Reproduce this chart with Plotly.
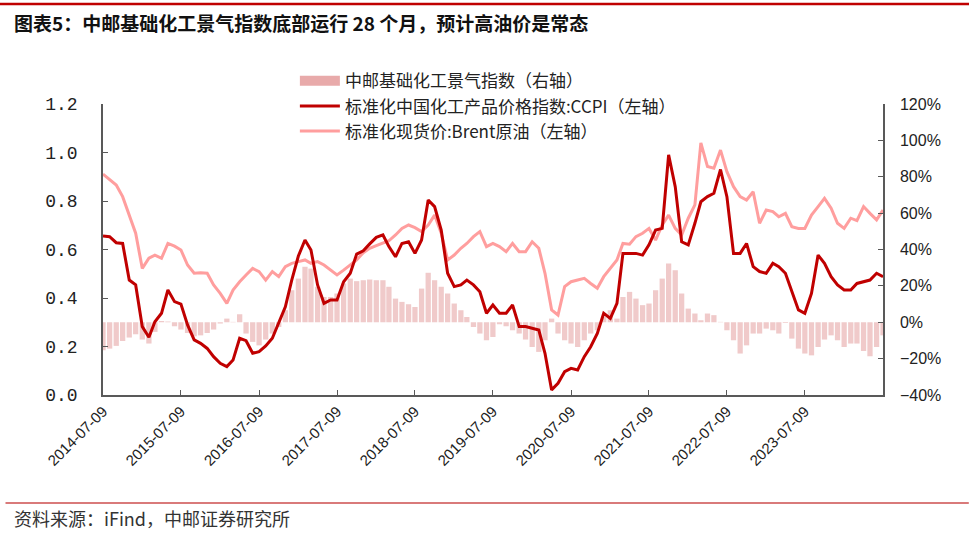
import pandas as pd
import plotly.graph_objects as go

start = pd.Timestamp("2014-07-09")
n_months = 121
dates = [start + pd.DateOffset(months=i) for i in range(n_months)]

ccpi = [0.656, 0.653, 0.628, 0.625, 0.474, 0.454, 0.282, 0.238, 0.302, 0.337,
        0.433, 0.385, 0.375, 0.289, 0.227, 0.213, 0.192, 0.158, 0.131, 0.117,
        0.144, 0.234, 0.224, 0.172, 0.179, 0.202, 0.234, 0.296, 0.364, 0.474,
        0.573, 0.639, 0.598, 0.454, 0.378, 0.392, 0.392, 0.467, 0.502, 0.581,
        0.595, 0.623, 0.650, 0.660, 0.612, 0.570, 0.625, 0.632, 0.584, 0.639,
        0.804, 0.777, 0.680, 0.502, 0.447, 0.454, 0.474, 0.454, 0.426, 0.337,
        0.371, 0.337, 0.337, 0.371, 0.282, 0.282, 0.275, 0.268, 0.172, 0.021,
        0.048, 0.096, 0.110, 0.103, 0.158, 0.199, 0.254, 0.337, 0.316, 0.378,
        0.584, 0.584, 0.584, 0.577, 0.619, 0.680, 0.687, 0.990, 0.859, 0.632,
        0.619, 0.708, 0.797, 0.818, 0.832, 0.930, 0.818, 0.584, 0.584, 0.625,
        0.529, 0.509, 0.502, 0.543, 0.529, 0.502, 0.426, 0.351, 0.337, 0.419,
        0.577, 0.543, 0.488, 0.454, 0.433, 0.433, 0.460, 0.467, 0.474, 0.502,
        0.488]

brent = [0.911, 0.889, 0.866, 0.818, 0.742, 0.667, 0.522, 0.564, 0.577, 0.564,
         0.625, 0.614, 0.598, 0.536, 0.502, 0.504, 0.502, 0.454, 0.419, 0.378,
         0.433, 0.467, 0.495, 0.522, 0.509, 0.474, 0.509, 0.488, 0.529, 0.543,
         0.550, 0.557, 0.543, 0.550, 0.536, 0.515, 0.495, 0.515, 0.536, 0.557,
         0.587, 0.605, 0.616, 0.625, 0.636, 0.660, 0.687, 0.701, 0.690, 0.674,
         0.701, 0.742, 0.667, 0.557, 0.577, 0.605, 0.625, 0.653, 0.674, 0.612,
         0.625, 0.612, 0.591, 0.625, 0.591, 0.591, 0.632, 0.605, 0.502, 0.351,
         0.330, 0.447, 0.467, 0.474, 0.481, 0.460, 0.440, 0.488, 0.522, 0.557,
         0.625, 0.622, 0.653, 0.667, 0.687, 0.639, 0.701, 0.742, 0.687, 0.660,
         0.729, 0.784, 1.040, 0.942, 0.935, 1.010, 0.921, 0.859, 0.818, 0.804,
         0.838, 0.708, 0.763, 0.756, 0.735, 0.749, 0.694, 0.687, 0.687, 0.742,
         0.777, 0.811, 0.770, 0.708, 0.687, 0.729, 0.719, 0.777, 0.749, 0.722,
         0.763]

index_pct = [-15.4, -14.5, -13.0, -10.3, -8.4, -6.6, -9.5, -11.7, -5.3, 0.7,
             0.4, -2.2, -4.0, -5.9, -7.7, -7.2, -5.9, -4.0, -0.7, 2.0,
             0.2, 4.4, -6.2, -10.8, -12.7, -9.5, -6.2, -2.6, 6.6, 17.6,
             24.0, 30.5, 29.5, 19.5, 13.9, 13.9, 15.8, 21.3, 24.0, 22.6,
             23.1, 23.5, 23.1, 23.1, 19.5, 13.0, 11.2, 9.9, 8.4, 18.5,
             27.2, 23.1, 19.5, 15.8, 10.3, 6.6, 2.9, -2.6, -6.2, -9.9,
             -8.1, -1.1, -2.2, -4.4, -6.2, -9.5, -13.6, -16.3, -9.9, 2.0,
             -6.2, -9.9, -11.7, -13.6, -9.9, -6.2, -4.4, 2.9, 6.6, 2.0,
             13.9, 16.7, 13.0, 9.4, 10.3, 17.6, 24.0, 32.3, 28.6, 15.8,
             7.5, 4.8, 1.1, 4.8, 3.9, 0.2, -4.4, -9.9, -17.2, -12.7,
             -6.2, -6.2, -3.5, -4.4, -6.2, -0.4, -9.0, -14.5, -17.2, -18.2,
             -13.6, -9.5, -7.2, -9.9, -13.6, -11.7, -11.7, -15.8, -18.7, -13.6,
             -7.2]

x_ticks = ["2014-07-09", "2015-07-09", "2016-07-09", "2017-07-09", "2018-07-09",
           "2019-07-09", "2020-07-09", "2021-07-09", "2022-07-09", "2023-07-09"]
left_ticks = [0.0, 0.2, 0.4, 0.6, 0.8, 1.0, 1.2]
right_ticks = [-40, -20, 0, 20, 40, 60, 80, 100, 120]

name_bar = "中邮基础化工景气指数（右轴）"
name_ccpi = "标准化中国化工产品价格指数:CCPI（左轴）"
name_brent = "标准化现货价:Brent原油（左轴）"
title_text = "图表5：中邮基础化工景气指数底部运行 28 个月，预计高油价是常态"
source_text = "资料来源：iFind，中邮证券研究所"

CJK = "Noto Sans CJK SC"
axis_col = "#595959"
bar_col = "rgba(226,150,150,0.5)"

fig = go.Figure()
fig.add_trace(go.Bar(x=dates, y=index_pct, name=name_bar, yaxis="y",
                     marker=dict(color=bar_col, line=dict(width=0)),
                     showlegend=False))
# legend swatch for the bar series (wide rectangle, as in the original)
fig.add_trace(go.Scatter(x=[None], y=[None], name=name_bar, yaxis="y", mode="lines",
                         line=dict(color="rgba(232,170,170,1)", width=11), legendrank=1))
fig.add_trace(go.Scatter(x=dates, y=brent, name=name_brent, yaxis="y2", mode="lines",
                         line=dict(color="#ff9e9e", width=3), legendrank=3))
fig.add_trace(go.Scatter(x=dates, y=ccpi, name=name_ccpi, yaxis="y2", mode="lines",
                         line=dict(color="#c00000", width=3), legendrank=2))

fig.update_layout(
    width=969, height=533,
    margin=dict(l=103, r=86, t=104, b=138),
    paper_bgcolor="white", plot_bgcolor="white",
    bargap=0.12,
    showlegend=True,
    legend=dict(x=0.246, y=1.14, xanchor="left", yanchor="top",
                font=dict(family=CJK, size=17, color="#222"),
                bgcolor="rgba(0,0,0,0)", itemwidth=40, tracegroupgap=0,
                traceorder="normal"),
    xaxis=dict(type="date", range=["2014-07-09", "2024-07-09"],
               tickvals=x_ticks, ticktext=x_ticks, tickangle=-45,
               tickfont=dict(family="Liberation Sans", size=15, color="#222"),
               showgrid=False, zeroline=False, showline=True, linecolor=axis_col, linewidth=1.5,
               ticks="inside", ticklen=5, tickcolor=axis_col, mirror=False),
    yaxis=dict(side="right", range=[-40, 120], tickvals=right_ticks,
               ticktext=[f"{v}%" if v >= 0 else f"\u2212{abs(v)}%" for v in right_ticks],
               tickfont=dict(family="Liberation Sans", size=16, color="#222"),
               showgrid=False, zeroline=False, showline=True, linecolor=axis_col, linewidth=1.5,
               ticks="inside", ticklen=5, tickcolor=axis_col, ticklabelstandoff=12),
    yaxis2=dict(side="left", overlaying="y", range=[0, 1.2], tickvals=left_ticks,
                ticktext=[f"{v:.1f}" for v in left_ticks],
                tickfont=dict(family="Liberation Mono", size=18, color="#222"),
                showgrid=False, zeroline=False, showline=True, linecolor=axis_col, linewidth=1.5,
                ticks="inside", ticklen=5, tickcolor=axis_col, ticklabelstandoff=20),
    shapes=[
        dict(type="line", xref="paper", yref="paper", x0=-0.2, x1=1.2,
             y0=1 + (104 - 4) / 291, y1=1 + (104 - 4) / 291,
             line=dict(color="#c00000", width=2.5)),
        dict(type="line", xref="paper", yref="paper", x0=-0.125, x1=1.11,
             y0=-(503 - 395) / 291, y1=-(503 - 395) / 291,
             line=dict(color="#d97a7a", width=2)),
    ],
    annotations=[
        dict(text="<b>" + title_text + "</b>", xref="paper", yref="paper",
             x=-(103 - 12) / 780, y=1 + (104 - 22) / 291, xanchor="left", yanchor="middle",
             showarrow=False, font=dict(family=CJK, size=19, color="#111")),
        dict(text=source_text, xref="paper", yref="paper",
             x=-(103 - 12) / 780, y=-(518 - 395) / 291, xanchor="left", yanchor="middle",
             showarrow=False, font=dict(family=CJK, size=18, color="#333")),
    ],
)

fig.write_html("out.html")
